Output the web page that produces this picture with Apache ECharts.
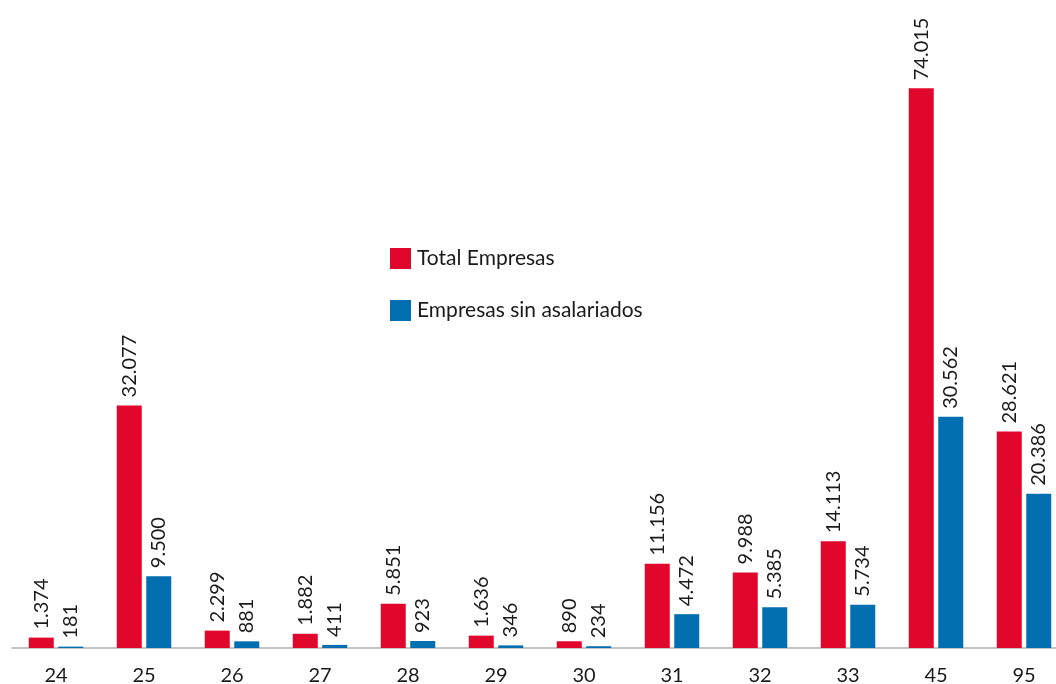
<!DOCTYPE html>
<html>
<head>
<meta charset="utf-8">
<script src="https://cdn.jsdelivr.net/npm/echarts@6/dist/echarts.min.js"></script>
<style>html,body{margin:0;padding:0;background:#fff}#c{width:1056px;height:684px}</style>
</head>
<body>
<div id="c"></div>
<script>
const categories = ['24','25','26','27','28','29','30','31','32','33','45','95'];
const totalEmpresas = [1374, 32077, 2299, 1882, 5851, 1636, 890, 11156, 9988, 14113, 74015, 28621];
const sinAsalariados = [181, 9500, 881, 411, 923, 346, 234, 4472, 5385, 5734, 30562, 20386];
const seriesNames = ['Total Empresas', 'Empresas sin asalariados'];

const fmt = v => String(v).replace(/\B(?=(\d{3})+(?!\d))/g, '.');
const font = 'Lato, "Open Sans", sans-serif';
const labelCfg = {
  show: true, position: 'top', rotate: 90, align: 'left', verticalAlign: 'middle',
  distance: 8, fontFamily: font, fontSize: 20, color: '#1a1a1a',
  formatter: p => fmt(p.value)
};
const chart = echarts.init(document.getElementById('c'));
chart.setOption({
  animation: false,
  legend: {
    orient: 'vertical', left: 385, top: 243, itemWidth: 21, itemHeight: 21, itemGap: 31,
    icon: 'rect', textStyle: { fontFamily: font, fontSize: 21, color: '#1a1a1a', padding: [0,0,0,1] }
  },
  grid: { left: 12, width: 1056, top: 43, bottom: 36, containLabel: false, outerBoundsMode: 'none' },
  xAxis: {
    type: 'category', data: categories,
    axisLine: { lineStyle: { color: '#c4c4c4', width: 2 } },
    axisTick: { show: false },
    axisLabel: { fontFamily: font, fontSize: 20, color: '#1a1a1a', margin: 18 }
  },
  yAxis: { type: 'value', min: 0, max: 80000, show: false, splitLine: { show: false } },
  series: [
    { name: seriesNames[0], type: 'bar', data: totalEmpresas, barWidth: 25, barGap: '18%',
      itemStyle: { color: '#e0062c' }, label: labelCfg },
    { name: seriesNames[1], type: 'bar', data: sinAsalariados, barWidth: 25,
      itemStyle: { color: '#006eaf' }, label: labelCfg }
  ]
});
</script>
</body>
</html>
